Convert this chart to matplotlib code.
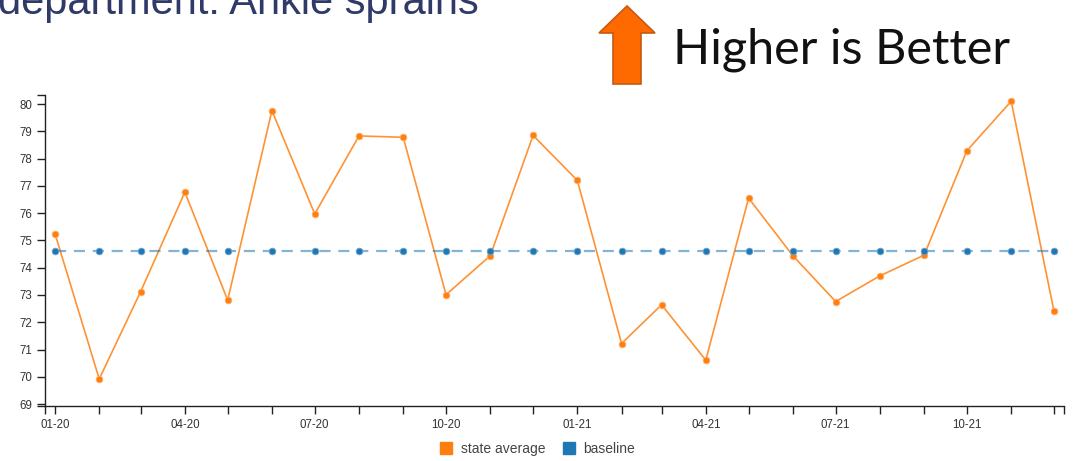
import numpy as np
import pandas as pd
import matplotlib
matplotlib.use("Agg")
import matplotlib.pyplot as plt
from matplotlib.patches import Polygon

months = pd.date_range("2020-01-01", periods=24, freq="MS")
state_avg = [75.25, 69.92, 73.12, 76.77, 72.81, 79.76, 75.97, 78.83, 78.78, 73.01,
             74.44, 78.85, 77.20, 71.22, 72.64, 70.61, 76.55, 74.44, 72.76, 73.70,
             74.46, 78.29, 80.10, 72.40]
baseline = [74.6] * 24
y_ticks = list(range(69, 81))

W, H = 1076, 461
fig = plt.figure(figsize=(W / 100, H / 100), dpi=100)
ax = fig.add_axes([45 / W, 1 - 406 / H, (1064 - 45) / W, (406 - 95) / H])

orange = "#ff7f0e"
blue = "#1f77b4"
ax.plot(months, state_avg, color=orange, lw=1.2, alpha=0.85, zorder=2)
ax.plot(months, state_avg, "o", color=orange, ms=4.8, mec="#ffb070", mew=0.6, zorder=3)
ax.plot(months, baseline, color=blue, lw=1.6, alpha=0.55, dashes=(5, 3.5), zorder=4)
ax.plot(months, baseline, "o", color=blue, ms=4.8, mec="#6fa6d0", mew=0.6, zorder=5)

pad = pd.Timedelta(days=7)
x0, x1 = months[0] - pad, months[-1] + pad
y0, y1 = 68.93, 80.33
ax.set_xlim(x0, x1)
ax.set_ylim(y0, y1)

ax.set_xticks(months)
ax.set_xticklabels([m.strftime("%m-%y") if m.month in (1, 4, 7, 10) else "" for m in months])
ax.set_xticks([x0, x1], minor=True)
ax.set_yticks(y_ticks)
ax.set_yticklabels([str(v) for v in y_ticks])
ax.set_yticks([y0, y1], minor=True)
ax.tick_params(axis="both", which="both", direction="out", length=6, width=1, color="#222",
               labelsize=8.3, labelcolor="#333", pad=3)
for lab in ax.get_xticklabels() + ax.get_yticklabels():
    lab.set_family("Liberation Sans")

for s in ["top", "right"]:
    ax.spines[s].set_visible(False)
for s in ["left", "bottom"]:
    ax.spines[s].set_color("#222")
    ax.spines[s].set_linewidth(1)

# legend
fig.patches.append(plt.Rectangle((440 / W, 1 - 454 / H), 12 / W, 12 / H,
                                 transform=fig.transFigure, color=orange))
fig.text(461 / W, 1 - 449 / H, "state average", fontsize=10, color="#444",
         va="center", family="Liberation Sans")
fig.patches.append(plt.Rectangle((563 / W, 1 - 454 / H), 12 / W, 12 / H,
                                 transform=fig.transFigure, color=blue))
fig.text(583 / W, 1 - 449 / H, "baseline", fontsize=10, color="#444",
         va="center", family="Liberation Sans")

# header text (cut off at the top, as in the source slide)
fig.text(-2 / W, 1 - 14 / H, "department: Ankle sprains", fontsize=30,
         color="#2f3a68", va="baseline", ha="left", family="Liberation Sans")

# arrow
pts = [(613, 84), (641, 84), (641, 33), (655, 33), (627, 6), (599, 33), (613, 33)]
arrow = Polygon([(x / W, 1 - y / H) for x, y in pts], closed=True,
                transform=fig.transFigure, facecolor="#ff6a00", edgecolor="#c55a11", lw=1.2)
fig.patches.append(arrow)
fig.text(673 / W, 1 - 64 / H, "Higher is Better", fontsize=35, color="#111",
         va="baseline", ha="left", family="Lato")

fig.savefig("out.png", dpi=100)
